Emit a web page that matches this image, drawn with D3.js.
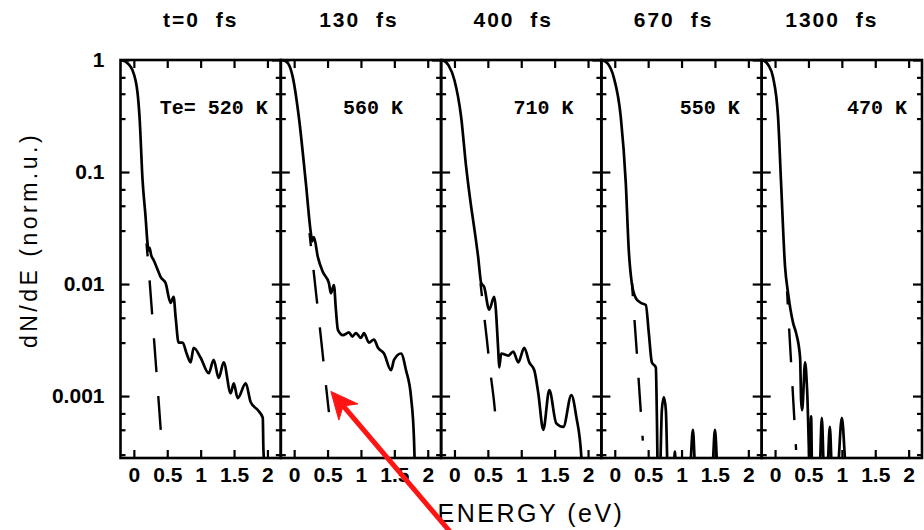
<!DOCTYPE html>
<html>
<head>
<meta charset="utf-8">
<script src="https://cdn.jsdelivr.net/npm/d3@7"></script>
<style>
  body { margin: 0; background: #fff; }
  svg { display: block; }
</style>
</head>
<body>
<svg id="chart" width="924" height="530"></svg>
<script>
// Pump-probe delay of each panel and the fitted electron temperature
const delayTimes = ["t=0 fs", "130 fs", "400 fs", "670 fs", "1300 fs"];
const tempLabels = ["Te= 520 K", "560 K", "710 K", "550 K", "470 K"];

// Axis ticks
const xTicks = [0, 0.5, 1, 1.5, 2];
const xTickLabels = ["0", "0.5", "1", "1.5", "2"];
const yTicks = [1, 0.1, 0.01, 0.001];
const yTickLabels = ["1", "0.1", "0.01", "0.001"];
const yMinorTicks = [0.7, 0.5, 0.3, 0.07, 0.05, 0.03, 0.007, 0.005, 0.003, 0.0007, 0.0005, 0.0003];

// Measured distributions dN/dE, [energy (eV), normalised value]
const solid0 = [[-0.185,1.0],[-0.08,0.92],[-0.02,0.81],[0.025,0.66],[0.055,0.51],[0.085,0.31],[0.13,0.085],[0.175,0.040],[0.205,0.023],[0.22,0.020],[0.235,0.021],[0.26,0.018],[0.295,0.0164],[0.37,0.0128],[0.40,0.0116],[0.475,0.0102],[0.55,0.0068],[0.595,0.0077],[0.625,0.0051],[0.67,0.0030],[0.73,0.0030],[0.79,0.0024],[0.85,0.0020],[0.895,0.0027],[1.0,0.0022],[1.12,0.0016],[1.195,0.0021],[1.27,0.00145],[1.345,0.0020],[1.45,0.00106],[1.495,0.0013],[1.555,0.00096],[1.675,0.0013],[1.75,0.00088],[1.855,0.00075],[1.93,0.00064],[1.94,0.00033],[1.97,0.0002]];
const solid1 = [[-0.17,1.0],[-0.09,0.93],[-0.02,0.70],[0.07,0.31],[0.175,0.080],[0.25,0.0285],[0.27,0.024],[0.295,0.0263],[0.355,0.0174],[0.43,0.0128],[0.52,0.0102],[0.55,0.0083],[0.595,0.0098],[0.625,0.0059],[0.655,0.0039],[0.73,0.0035],[0.82,0.0037],[0.87,0.0034],[0.925,0.00365],[1.0,0.0033],[1.045,0.00365],[1.12,0.0030],[1.195,0.0032],[1.255,0.0027],[1.345,0.0024],[1.45,0.0017],[1.495,0.0021],[1.60,0.0024],[1.675,0.0017],[1.75,0.00098],[1.795,0.0004],[1.81,0.0002]];
const solid2 = [[-0.18,1.0],[-0.09,0.90],[0.0,0.66],[0.10,0.31],[0.175,0.111],[0.25,0.049],[0.295,0.032],[0.355,0.0174],[0.40,0.0102],[0.445,0.0094],[0.52,0.0059],[0.595,0.0077],[0.655,0.0026],[0.67,0.0018],[0.70,0.0024],[0.805,0.0023],[0.88,0.0025],[0.955,0.0020],[1.045,0.0027],[1.12,0.0020],[1.195,0.0017],[1.255,0.00106],[1.33,0.0005],[1.42,0.00113],[1.525,0.00057],[1.63,0.00053],[1.75,0.00102],[1.825,0.00065],[1.90,0.000285],[1.91,0.0002]];
const solid3 = [[-0.19,1.0],[-0.1,0.92],[-0.015,0.70],[0.09,0.31],[0.165,0.080],[0.21,0.020],[0.255,0.0102],[0.315,0.0075],[0.39,0.0068],[0.465,0.0065],[0.51,0.00365],[0.555,0.0020],[0.615,0.0018],[0.63,0.0007],[0.645,0.0002],[0.675,0.0002],[0.705,0.00075],[0.735,0.00098],[0.765,0.00075],[0.795,0.0002],[0.88,0.0002],[0.90,0.00032],[0.92,0.0002],[1.12,0.0002],[1.17,0.0005],[1.21,0.0002],[1.455,0.0002],[1.50,0.0005],[1.545,0.0002],[1.6,0.0002]];
const solid4 = [[-0.18,1.0],[-0.1,0.9],[-0.03,0.70],[0.045,0.31],[0.09,0.080],[0.15,0.0142],[0.195,0.0083],[0.27,0.0045],[0.315,0.00365],[0.375,0.0022],[0.39,0.00092],[0.405,0.00075],[0.45,0.0020],[0.48,0.00113],[0.525,0.0002],[0.54,0.00066],[0.555,0.0002],[0.665,0.0002],[0.70,0.00064],[0.735,0.0002],[0.78,0.0002],[0.82,0.00053],[0.855,0.0002],[0.93,0.0002],[1.0,0.00064],[1.07,0.0002],[1.2,0.0002]];

// Thermal (Fermi-Dirac) tails, dashed
const thermal0 = [[0.19,0.023],[0.235,0.0109],[0.28,0.0048],[0.325,0.0021],[0.37,0.00092],[0.41,0.00043]];
const thermal1 = [[0.23,0.0285],[0.295,0.0125],[0.355,0.0059],[0.42,0.0026],[0.475,0.00126],[0.52,0.00072]];
const thermal2 = [[0.39,0.0102],[0.43,0.0062],[0.485,0.0032],[0.54,0.0016],[0.59,0.00092],[0.625,0.00057]];
const thermal3 = [[0.258,0.0102],[0.295,0.0048],[0.338,0.0021],[0.378,0.00092],[0.42,0.0004]];
const thermal4 = [[0.18,0.0086],[0.22,0.0032],[0.255,0.0014],[0.29,0.0006],[0.315,0.00033]];

// Point the red arrow marks: panel index, energy, value
const arrowTarget = [1, 0.55, 0.0011];

const solids = [solid0, solid1, solid2, solid3, solid4];
const thermals = [thermal0, thermal1, thermal2, thermal3, thermal4];

// ---- layout ----
const plotLeft = 120.5, panelW = 160.3, plotTop = 60, plotBottom = 458;
const tempLabelInset = [13, 38, 28, 22, 15];
const titleShift = [0, -2, -8, -8, -10];
const sansFont = "'Liberation Sans', Arial, Helvetica, sans-serif";

const svg = d3.select("#chart");
const y = d3.scaleLog().domain([0.00028, 1]).range([plotBottom, plotTop]);

const xScales = d3.range(5).map(i =>
  d3.scaleLinear().domain([-0.2, 2.2]).range([plotLeft + i * panelW, plotLeft + (i + 1) * panelW]));

const defs = svg.append("defs");

d3.range(5).forEach(i => {
  const x = xScales[i];
  const left = x.range()[0], right = x.range()[1];
  const g = svg.append("g").attr("class", "panel");

  defs.append("clipPath").attr("id", "clip" + i)
    .append("rect").attr("x", left).attr("y", plotTop).attr("width", panelW).attr("height", plotBottom - plotTop);

  // bottom axis with labels, ticks pointing inward
  const bottom = g.append("g").attr("transform", `translate(0,${plotBottom})`)
    .call(d3.axisBottom(x).tickValues(xTicks).tickFormat((d, k) => xTickLabels[k])
      .tickSizeInner(-8).tickSizeOuter(0).tickPadding(9));
  bottom.select(".domain").remove();
  bottom.selectAll("text").attr("font-family", sansFont).attr("font-size", 21).attr("font-weight", "bold").attr("fill", "#000");

  const top = g.append("g").attr("transform", `translate(0,${plotTop})`)
    .call(d3.axisTop(x).tickValues(xTicks).tickFormat("").tickSizeInner(-8).tickSizeOuter(0));
  top.select(".domain").remove();

  // left and right log ticks
  [[d3.axisLeft, left], [d3.axisRight, right]].forEach(([axisFn, pos], side) => {
    const major = g.append("g").attr("transform", `translate(${pos},0)`)
      .call(axisFn(y).tickValues(yTicks).tickSizeInner(-9).tickSizeOuter(0).tickPadding(16)
        .tickFormat((d, k) => (i === 0 && side === 0) ? yTickLabels[k] : ""));
    major.select(".domain").remove();
    major.selectAll("text").attr("font-family", sansFont).attr("font-size", 21).attr("font-weight", "bold").attr("fill", "#000");
    const minor = g.append("g").attr("transform", `translate(${pos},0)`)
      .call(axisFn(y).tickValues(yMinorTicks).tickSizeInner(-5).tickSizeOuter(0).tickFormat(""));
    minor.select(".domain").remove();
  });
  g.selectAll(".tick line").attr("stroke", "#000").attr("stroke-width", 2.2);

  // frame
  g.append("rect").attr("x", left).attr("y", plotTop).attr("width", panelW).attr("height", plotBottom - plotTop)
    .attr("fill", "none").attr("stroke", "#000").attr("stroke-width", 2.6);

  const line = d3.line().x(d => x(d[0])).y(d => y(d[1])).curve(d3.curveMonotoneX);
  const curves = g.append("g").attr("clip-path", `url(#clip${i})`);
  curves.append("path").datum(thermals[i]).attr("d", line)
    .attr("fill", "none").attr("stroke", "#000").attr("stroke-width", 2.4)
    .attr("stroke-dasharray", "34,24").attr("stroke-dashoffset", 21);
  curves.append("path").datum(solids[i]).attr("d", line)
    .attr("fill", "none").attr("stroke", "#000").attr("stroke-width", 2.7).attr("stroke-linejoin", "round");

  // delay time above, temperature inside
  svg.append("text").attr("x", (left + right) / 2 + titleShift[i]).attr("y", 27).attr("text-anchor", "middle")
    .attr("font-family", sansFont).attr("font-size", 21).attr("font-weight", "bold")
    .attr("letter-spacing", 2).attr("word-spacing", 8).text(delayTimes[i]);
  svg.append("text").attr("x", right - tempLabelInset[i]).attr("y", 114).attr("text-anchor", "end")
    .attr("font-family", "'Liberation Mono', 'Courier New', monospace").attr("font-size", 20).attr("font-weight", "bold")
    .attr("xml:space", "preserve").text(tempLabels[i]);
});

// axis titles
svg.append("text").attr("transform", "translate(37,240) rotate(-90)").attr("text-anchor", "middle")
  .attr("font-family", sansFont).attr("font-size", 23).attr("letter-spacing", 3.5)
  .text("dN/dE (norm.u.)");
svg.append("text").attr("x", 531).attr("y", 522).attr("text-anchor", "middle")
  .attr("font-family", sansFont).attr("font-size", 25).attr("letter-spacing", 2.5)
  .text("ENERGY (eV)");

// red arrow pointing at the thermal tail
const tip = [xScales[arrowTarget[0]](arrowTarget[1]), y(arrowTarget[2])];
const tail = [452, 534];
const len = Math.hypot(tail[0] - tip[0], tail[1] - tip[1]);
const u = [(tail[0] - tip[0]) / len, (tail[1] - tip[1]) / len];
const p = [-u[1], u[0]];
const headLen = 27, headHalf = 12.5, notch = 19;
const arrow = svg.append("g").attr("fill", "#ff1414").attr("stroke", "#ff1414");
arrow.append("line")
  .attr("x1", tip[0] + u[0] * notch).attr("y1", tip[1] + u[1] * notch)
  .attr("x2", tail[0]).attr("y2", tail[1]).attr("stroke-width", 5);
arrow.append("polygon").attr("stroke-width", 1).attr("points", [
  tip,
  [tip[0] + u[0] * headLen + p[0] * headHalf, tip[1] + u[1] * headLen + p[1] * headHalf],
  [tip[0] + u[0] * notch, tip[1] + u[1] * notch],
  [tip[0] + u[0] * headLen - p[0] * headHalf, tip[1] + u[1] * headLen - p[1] * headHalf]
].map(q => q.join(",")).join(" "));
</script>
</body>
</html>
